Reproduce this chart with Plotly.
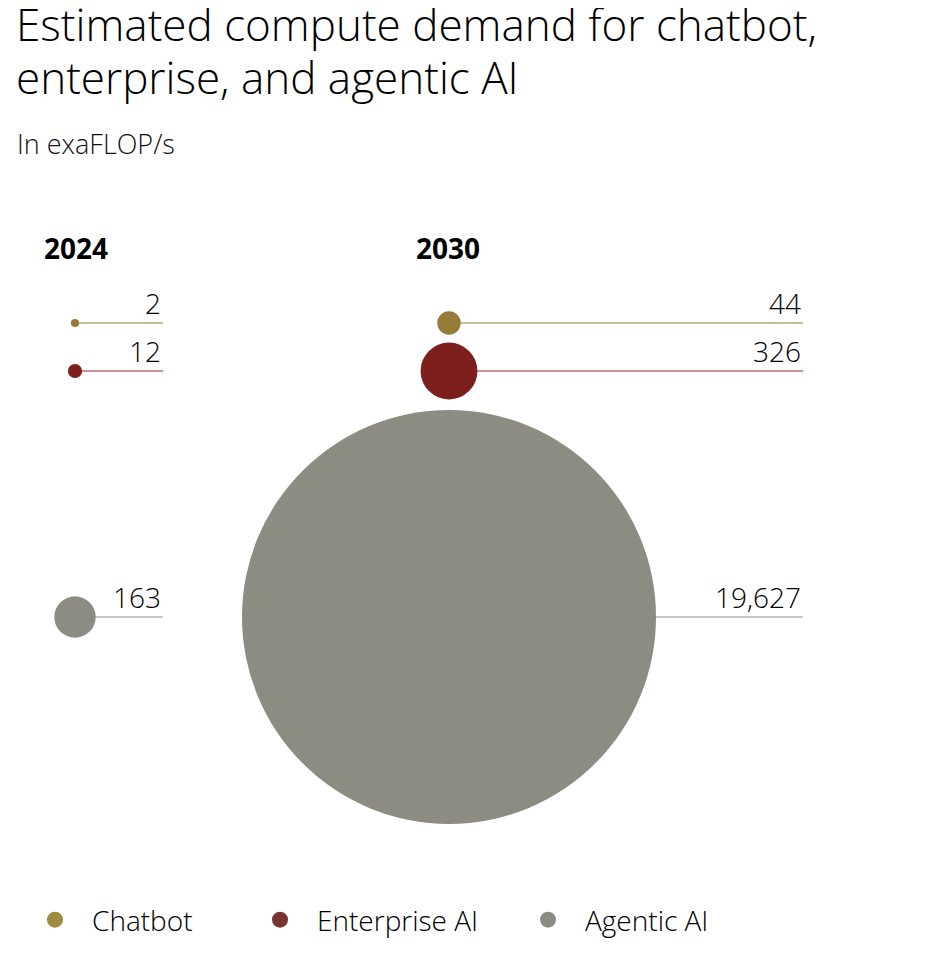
import plotly.graph_objects as go

# data
categories = ["Chatbot", "Enterprise AI", "Agentic AI"]
years = ["2024", "2030"]
values_2024 = [2, 12, 163]
values_2030 = [44, 326, 19627]
value_labels_2024 = ["2", "12", "163"]
value_labels_2030 = ["44", "326", "19,627"]
title_lines = ["Estimated compute demand for chatbot,", "enterprise, and agentic AI"]

colors = ["#967A38", "#7C1F1D", "#8C8C82"]
line_colors = ["#987B38", "#9A2222", "#909088"]
legend_colors = ["#A08A3E", "#763430", "#8C8C82"]

# the page body has an 8px margin, so axes are set up so that
# one data unit == one page pixel
W, H, OFF = 930, 958, 8
FW, FH = W - OFF, H - OFF
col_x = {"2024": 75, "2030": 449}
col_end = {"2024": 163, "2030": 803}
row_y = [323, 371, 617]
legend_x = [18, 243, 511]
max_val = max(values_2030)


def diam(v):
    return 410 * (v / max_val) ** 0.5 + 4


FONT = "Open Sans"

fig = go.Figure()

# leader lines
for i, cat in enumerate(categories):
    for yr in years:
        fig.add_trace(go.Scatter(
            x=[col_x[yr], col_end[yr]], y=[row_y[i], row_y[i]],
            mode="lines", line=dict(color=line_colors[i], width=1.2),
            hoverinfo="skip", showlegend=False,
        ))

# bubbles
for i, cat in enumerate(categories):
    vals = [values_2024[i], values_2030[i]]
    fig.add_trace(go.Scatter(
        x=[col_x[yr] for yr in years], y=[row_y[i]] * 2,
        mode="markers", name=cat, showlegend=False,
        marker=dict(size=[diam(v) for v in vals], sizemode="diameter",
                    color=colors[i], line=dict(width=0), opacity=1),
        hovertext=[f"{yr}: {v:,}" for yr, v in zip(years, vals)],
        hoverinfo="text",
    ))
    # legend entry, each in its own legend box
    fig.add_trace(go.Scatter(
        x=[None], y=[None], mode="markers", name=cat,
        marker=dict(size=17, color=legend_colors[i]),
        legend="legend" if i == 0 else f"legend{i + 1}",
    ))

# value labels
for i in range(len(categories)):
    for yr, labels in (("2024", value_labels_2024), ("2030", value_labels_2030)):
        fig.add_annotation(
            x=col_end[yr], y=row_y[i] + 1, text=labels[i], showarrow=False,
            xanchor="right", yanchor="bottom",
            font=dict(family=FONT, size=28, color="#000000", weight=300),
        )

# year headers
for yr, hx in (("2024", 42), ("2030", 414)):
    fig.add_annotation(
        x=hx, y=248, text=f"<b>{yr}</b>", showarrow=False,
        xanchor="left", yanchor="middle",
        font=dict(family=FONT, size=28, color="#000000"),
    )

# title (two lines placed separately) and subtitle
for line, ty in zip(title_lines, (24, 77)):
    fig.add_annotation(
        x=14, y=ty, text=line, showarrow=False,
        xanchor="left", yanchor="middle",
        font=dict(family=FONT, size=44, color="#000000", weight=300),
    )
fig.add_annotation(
    x=15, y=143, text="In exaFLOP/s", showarrow=False,
    xanchor="left", yanchor="middle",
    font=dict(family=FONT, size=27, color="#111111", weight=300),
)

legends = {}
for i in range(len(categories)):
    key = "legend" if i == 0 else f"legend{i + 1}"
    legends[key] = dict(
        orientation="h", x=(legend_x[i] - OFF) / FW, xanchor="left",
        y=(H - 920) / FH, yanchor="middle",
        font=dict(family=FONT, size=28, color="#000000", weight=300),
        itemsizing="trace", itemwidth=64, bgcolor="rgba(0,0,0,0)",
    )

fig.update_layout(
    width=FW, height=FH,
    margin=dict(l=0, r=0, t=0, b=0),
    paper_bgcolor="white", plot_bgcolor="white",
    xaxis=dict(range=[OFF, W], visible=False, fixedrange=True),
    yaxis=dict(range=[H, OFF], visible=False, fixedrange=True),
    showlegend=True,
    **legends,
)

fig.write_html("out.html")
